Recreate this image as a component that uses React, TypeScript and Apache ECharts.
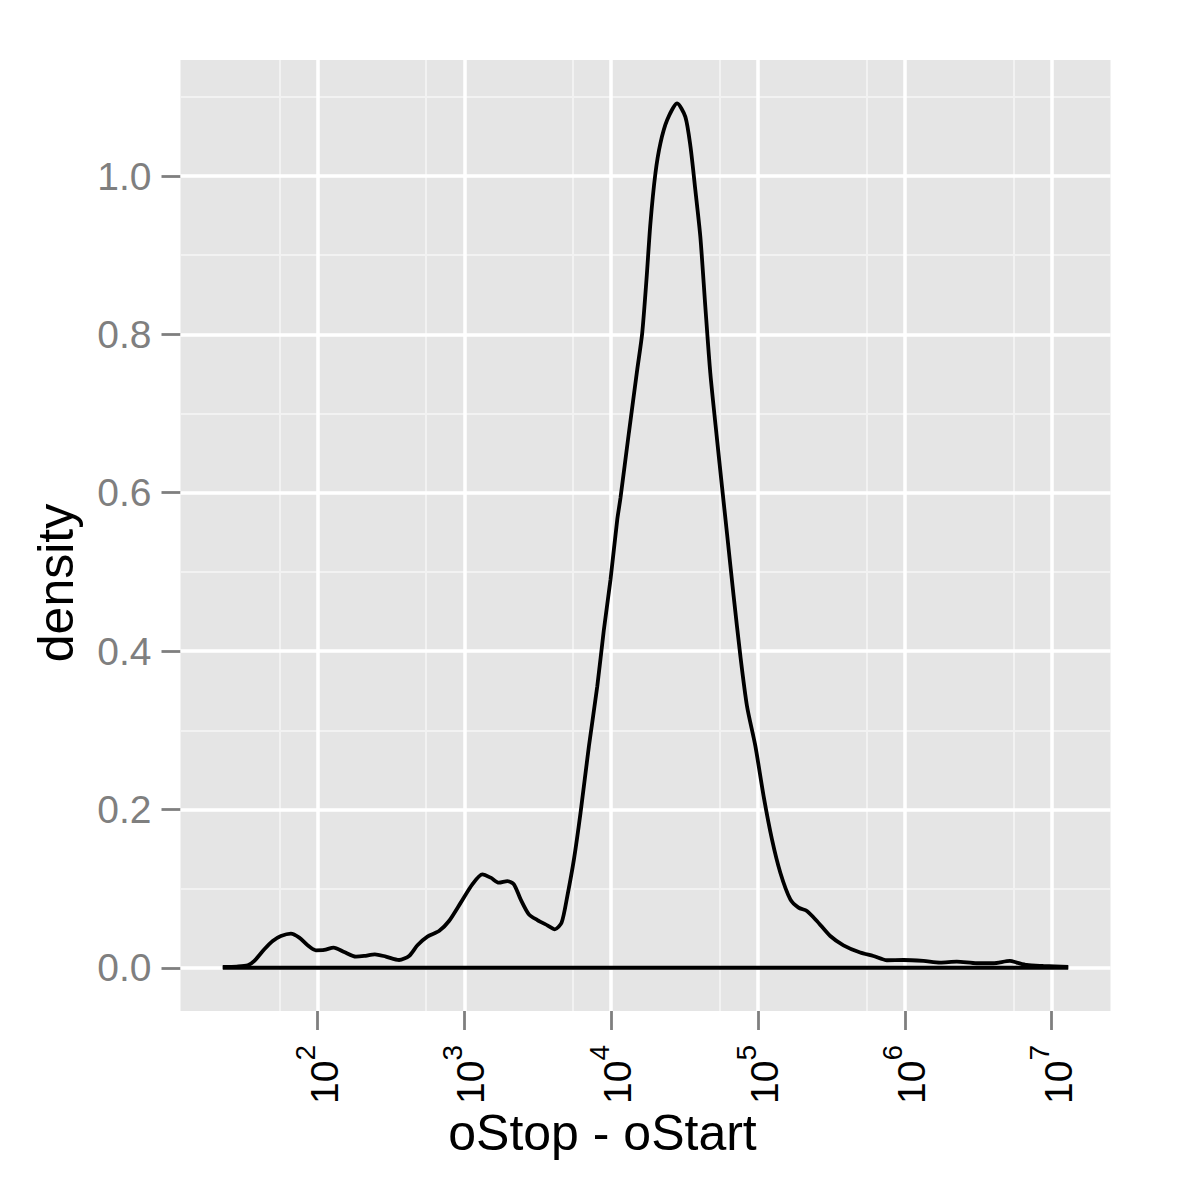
import React, { useEffect, useRef } from 'react';
import * as echarts from 'echarts';

// x values are log10(oStop - oStart)
const xLog = [1.354,1.45,1.524,1.569,1.637,1.694,1.750,1.818,1.875,1.932,1.988,2.045,2.109,2.181,2.261,2.317,2.390,2.465,2.555,2.623,2.680,2.748,2.827,2.895,2.975,3.054,3.122,3.179,3.235,3.293,3.337,3.383,3.439,3.497,3.565,3.616,3.662,3.701,3.746,3.791,3.848,3.905,3.950,3.995,4.041,4.063,4.120,4.177,4.211,4.240,4.267,4.301,4.335,4.381,4.449,4.505,4.540,4.573,4.607,4.641,4.675,4.721,4.755,4.789,4.834,4.880,4.925,4.982,5.038,5.095,5.152,5.220,5.276,5.333,5.401,5.492,5.582,5.696,5.786,5.878,5.990,6.127,6.240,6.354,6.490,6.603,6.716,6.762,6.830,6.943,7.113];
const density = [0.001,0.0015,0.003,0.0086,0.0233,0.0338,0.0401,0.0432,0.0381,0.0284,0.0221,0.0225,0.0255,0.0199,0.0141,0.0149,0.0170,0.0141,0.0098,0.0149,0.0284,0.0394,0.0464,0.0591,0.0823,0.1054,0.1180,0.1138,0.1075,0.1095,0.1054,0.0864,0.0675,0.0603,0.0536,0.0486,0.0570,0.0906,0.1369,0.1958,0.2799,0.3556,0.4271,0.4902,0.5659,0.5933,0.6753,0.7552,0.8015,0.8688,0.9403,1.0034,1.0413,1.0707,1.0917,1.0748,1.0370,0.9823,0.9234,0.8351,0.7510,0.6669,0.607,0.548,0.4692,0.3934,0.3303,0.2799,0.2168,0.1621,0.1201,0.0864,0.0760,0.0717,0.0591,0.0401,0.0284,0.0192,0.0149,0.0095,0.0098,0.0086,0.0066,0.0078,0.0057,0.0057,0.0086,0.0066,0.0035,0.0023,0.001];

const xTickExps = [2, 3, 4, 5, 6, 7];
const xMinor = [1.742, 2.742, 3.742, 4.742, 5.742, 6.742];
const yTicks = [0, 0.2, 0.4, 0.6, 0.8, 1.0];
const yMinor = [0.1, 0.3, 0.5, 0.7, 0.9, 1.1];

const FONT = '"Liberation Sans", Arial, Helvetica, sans-serif';

export default function App() {
  const ref = useRef<HTMLDivElement>(null);
  useEffect(() => {
    if (!ref.current) return;
    const chart = echarts.init(ref.current, null, { renderer: 'svg' });
    const curve = xLog.map((x, i) => [x, density[i]]);
    const baseline = [[xLog[0], 0], [xLog[xLog.length - 1], 0]];
    const minorStyle = { color: '#F2F2F2', width: 2, type: 'solid' };
    const majorStyle = { color: '#FFFFFF', width: 3.5, type: 'solid' };
    const gridLines: any[] = [
      ...xMinor.map((v) => ({ xAxis: v, lineStyle: minorStyle })),
      ...yMinor.map((v) => ({ yAxis: v, lineStyle: minorStyle })),
      ...xTickExps.map((v) => ({ xAxis: v, lineStyle: majorStyle })),
      ...yTicks.map((v) => ({ yAxis: v, lineStyle: majorStyle })),
    ];
    chart.setOption({
      animation: false,
      textStyle: { fontFamily: FONT },
      grid: {
        left: 180.5, right: 89.5, top: 60, bottom: 189,
        show: true, backgroundColor: '#E5E5E5', borderWidth: 0,
      },
      xAxis: {
        type: 'value', min: 1.066, max: 7.401,
        axisLine: { show: false, onZero: false },
        splitLine: { show: false },
        axisTick: { show: true, customValues: xTickExps, length: 19, lineStyle: { color: '#7F7F7F', width: 2.8 } },
        axisLabel: {
          customValues: xTickExps, rotate: 90, margin: 34,
          formatter: (v: number) => `{a|10}{b|${Math.round(v)}}`,
          rich: {
            a: { fontSize: 39, verticalAlign: 'bottom', color: '#000', fontFamily: FONT },
            b: { fontSize: 28, verticalAlign: 'bottom', padding: [0, 0, 24, 0], color: '#000', fontFamily: FONT },
          },
        },
      },
      yAxis: {
        type: 'value', min: -0.0546, max: 1.1466,
        axisLine: { show: false, onZero: false },
        splitLine: { show: false },
        axisTick: { show: true, customValues: yTicks, length: 19, lineStyle: { color: '#7F7F7F', width: 2.8 } },
        axisLabel: {
          customValues: yTicks, margin: 29, fontSize: 39, color: '#7F7F7F', fontFamily: FONT,
          formatter: (v: number) => v.toFixed(1),
        },
      },
      series: [
        {
          type: 'line', data: baseline, showSymbol: false, silent: true,
          lineStyle: { color: '#000', width: 3.8 }, z: 3,
          markLine: {
            silent: true, symbol: ['none', 'none'], label: { show: false }, z: 1,
            emphasis: { disabled: true },
            lineStyle: { type: 'solid' },
            data: gridLines,
          },
        },
        {
          type: 'line', data: curve, showSymbol: false, silent: true, smooth: 0.25,
          lineStyle: { color: '#000', width: 3.8 }, z: 4,
        },
      ],
      graphic: [
        {
          type: 'text', x: 602.5, y: 1132.7,
          style: { text: 'oStop - oStart', fontSize: 50, fontFamily: FONT, fill: '#000', align: 'center', verticalAlign: 'middle' },
        },
        {
          type: 'text', x: 55.7, y: 583, rotation: Math.PI / 2,
          style: { text: 'density', fontSize: 50, fontFamily: FONT, fill: '#000', align: 'center', verticalAlign: 'middle' },
        },
      ],
    });
    return () => chart.dispose();
  }, []);
  return <div ref={ref} style={{ position: 'absolute', left: 0, top: 0, width: 1200, height: 1200 }} />;
}
